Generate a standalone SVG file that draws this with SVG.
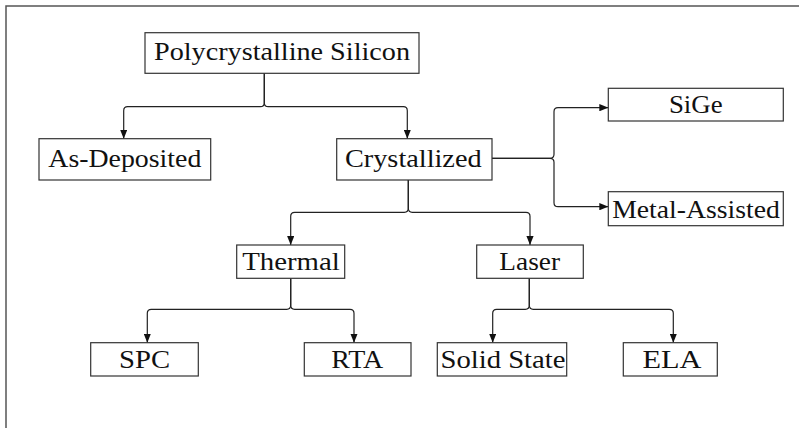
<svg xmlns="http://www.w3.org/2000/svg" width="799" height="428" viewBox="0 0 799 428">
<style>
.frame{fill:none;stroke:#555;stroke-width:1.5}
.box rect{fill:#fff;stroke:#333;stroke-width:1.2}
.box text{font-family:"Liberation Serif","DejaVu Serif",serif;font-size:25px;fill:#111;text-anchor:middle}
.edge{fill:none;stroke:#222;stroke-width:1.2;marker-end:url(#arr)}
</style>
<defs>
<marker id="arr" markerUnits="userSpaceOnUse" viewBox="0 0 10 8" markerWidth="9" markerHeight="7.5" refX="10" refY="4" orient="auto">
<path d="M0,0 L10,4 L0,8 z" fill="#111"/>
</marker>
</defs>
<rect width="799" height="428" fill="#fff"/>
<path class="frame" d="M6,428 L6,6 L799,6"/>
<g id="connectors">
<path class="edge" d="M264.3,73 V102.7 Q264.3,106.7 260.3,106.7 H127.7 Q123.7,106.7 123.7,110.7 V138.7"/>
<path class="edge" d="M264.3,73 V102.7 Q264.3,106.7 268.3,106.7 H403.3 Q407.3,106.7 407.3,110.7 V138.7"/>
<path class="edge" d="M492,158.3 H550 Q554,158.3 554,154.3 V111.7 Q554,107.7 558,107.7 H608.3"/>
<path class="edge" d="M492,158.3 H550 Q554,158.3 554,162.3 V202.7 Q554,206.7 558,206.7 H608.3"/>
<path class="edge" d="M408.3,180 V208.3 Q408.3,212.3 404.3,212.3 H294.7 Q290.7,212.3 290.7,216.3 V245"/>
<path class="edge" d="M408.3,180 V208.3 Q408.3,212.3 412.3,212.3 H526 Q530,212.3 530,216.3 V245"/>
<path class="edge" d="M290.7,278.3 V305.3 Q290.7,309.3 286.7,309.3 H151.3 Q147.3,309.3 147.3,313.3 V342.7"/>
<path class="edge" d="M290.7,278.3 V305.3 Q290.7,309.3 294.7,309.3 H350 Q354,309.3 354,313.3 V342.7"/>
<path class="edge" d="M529.3,278.3 V305.3 Q529.3,309.3 525.3,309.3 H496.7 Q492.7,309.3 492.7,313.3 V342.7"/>
<path class="edge" d="M529.3,278.3 V305.3 Q529.3,309.3 533.3,309.3 H669.3 Q673.3,309.3 673.3,313.3 V342.7"/>
</g>
<g id="poly" class="box"><rect x="145" y="32.7" width="274" height="40.6"/><text x="282" y="60" textLength="256" lengthAdjust="spacingAndGlyphs">Polycrystalline Silicon</text></g>
<g id="asdep" class="box"><rect x="39" y="138.7" width="171.7" height="41.3"/><text x="124.8" y="166.5" textLength="153" lengthAdjust="spacingAndGlyphs">As-Deposited</text></g>
<g id="cryst" class="box"><rect x="336.7" y="138.7" width="155.3" height="41.3"/><text x="413.3" y="166.5" textLength="136.7" lengthAdjust="spacingAndGlyphs">Crystallized</text></g>
<g id="sige" class="box"><rect x="608.3" y="88.3" width="175" height="32.7"/><text x="695.8" y="113" textLength="53.7" lengthAdjust="spacingAndGlyphs">SiGe</text></g>
<g id="metal" class="box"><rect x="608.3" y="191.7" width="175" height="34"/><text x="696" y="217.7" textLength="167.7" lengthAdjust="spacingAndGlyphs">Metal-Assisted</text></g>
<g id="thermal" class="box"><rect x="236.7" y="245" width="108" height="33.3"/><text x="291" y="270.3" textLength="97.7" lengthAdjust="spacingAndGlyphs">Thermal</text></g>
<g id="laser" class="box"><rect x="476.7" y="245" width="106.6" height="33.3"/><text x="529.7" y="270.3" textLength="60.7" lengthAdjust="spacingAndGlyphs">Laser</text></g>
<g id="spc" class="box"><rect x="90.7" y="342.7" width="107.6" height="33.3"/><text x="144.5" y="368" textLength="51" lengthAdjust="spacingAndGlyphs">SPC</text></g>
<g id="rta" class="box"><rect x="304.3" y="342.7" width="106.7" height="33.3"/><text x="357.2" y="368" textLength="52" lengthAdjust="spacingAndGlyphs">RTA</text></g>
<g id="solid" class="box"><rect x="437.3" y="342.7" width="129.4" height="33.3"/><text x="503" y="368" textLength="125" lengthAdjust="spacingAndGlyphs">Solid State</text></g>
<g id="ela" class="box"><rect x="623.3" y="342.7" width="94" height="33.3"/><text x="672" y="368" textLength="59" lengthAdjust="spacingAndGlyphs">ELA</text></g>
</svg>
